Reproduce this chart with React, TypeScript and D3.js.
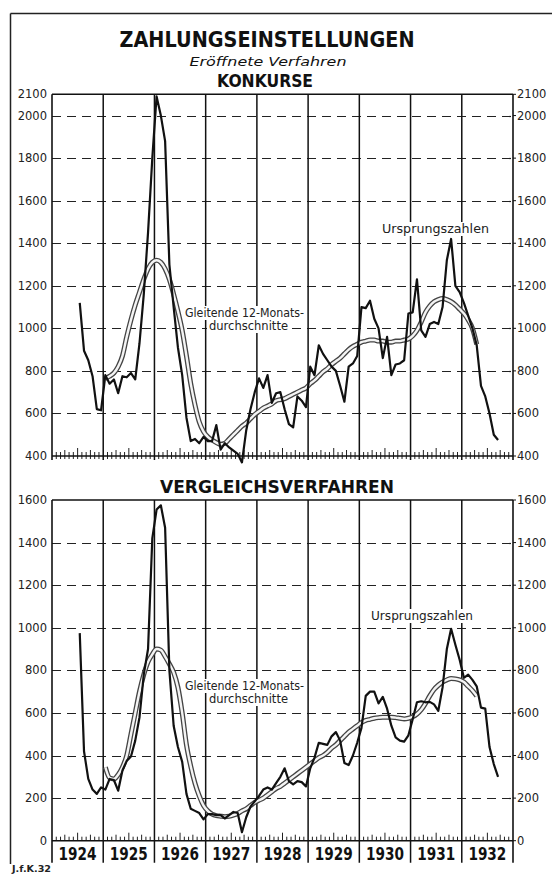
import React from 'react';
import * as d3 from 'd3';

const years = ['1924', '1925', '1926', '1927', '1928', '1929', '1930', '1931', '1932'];
const RAW_START = 6; // July 1924
const AVG_START = 12; // Jan 1925

const konkurseRaw = [
  1120, 895, 850, 775, 620, 615,
  780, 740, 760, 695, 775, 770, 790, 760, 930, 1160, 1450, 1800,
  2090, 2000, 1880, 1300, 1100, 910, 780, 580, 470, 480, 460, 490,
  470, 470, 545, 430, 460, 440, 425, 410, 370, 520, 620, 700,
  765, 720, 780, 650, 695, 700, 620, 550, 535, 680, 660, 630,
  820, 780, 920, 880, 850, 820, 800, 730, 655, 820, 835, 870,
  1100, 1095, 1130, 1045, 1000, 860, 960, 780, 830, 835, 850, 1070,
  1075, 1230, 990, 960, 1020, 1030, 1020, 1100, 1320, 1420, 1200, 1170,
  1120, 1060, 1000, 920, 730, 680, 600, 500, 475,
];

const konkurseAvg = [
  765, 775, 790, 820, 870, 960, 1040, 1110, 1170, 1230, 1280, 1310,
  1320, 1310, 1280, 1230, 1160, 1080, 990, 870, 740, 640, 560, 515,
  490, 475, 463, 455, 460, 480, 500, 520, 540, 555, 575, 595,
  610, 625, 635, 645, 660, 665, 670, 680, 690, 700, 710, 720,
  740, 755, 775, 795, 810, 830, 845, 860, 880, 900, 915, 925,
  935, 940, 945, 945, 940, 940, 935, 935, 940, 940, 945, 950,
  965, 990, 1030, 1075, 1105, 1125, 1135, 1140, 1135, 1125, 1110, 1090,
  1070, 1040, 1000, 925,
];

const vergleichRaw = [
  975, 420, 290, 240, 220, 250,
  240, 290, 285, 235, 330, 375, 395, 470, 580, 780, 900, 1420,
  1555, 1575, 1470, 800, 540, 440, 370, 220, 150, 140, 130, 100,
  125, 125, 120, 120, 105, 120, 135, 130, 40, 110, 160, 185,
  210, 240, 250, 240, 270, 300, 340, 280, 265, 280, 275, 255,
  340, 390, 460, 455, 450, 490, 510, 470, 365, 355, 400, 460,
  530, 680, 700, 700, 645, 675, 620, 540, 485, 470, 465, 495,
  570, 650, 655, 650, 652, 640, 610, 720, 900, 995, 920, 850,
  765, 780, 755, 725, 625, 620, 440, 360, 300,
];

const vergleichAvg = [
  345, 295, 290, 310, 345, 400, 500, 600, 700, 780, 840, 875,
  900, 895, 865, 830, 790, 720, 600, 450, 350, 270, 210, 165,
  140, 125, 118, 115, 113, 115, 120, 128, 140, 150, 165, 180,
  190, 200, 215, 230, 245, 255, 270, 285, 300, 315, 330, 345,
  360, 375, 390, 400, 415, 435, 450, 470, 490, 510, 525, 540,
  555, 565, 570, 575, 578, 580, 580, 580, 578, 575, 572, 575,
  582, 595, 615, 645, 680, 710, 730, 745, 755, 762, 760, 755,
  745, 725, 705, 680,
];

const konkurseTicks = [400, 600, 800, 1000, 1200, 1400, 1600, 1800, 2000, 2100];
const vergleichTicks = [0, 200, 400, 600, 800, 1000, 1200, 1400, 1600];

const X_LEFT = 52;
const X_RIGHT = 513;
const FONT = '"DejaVu Sans", "Liberation Sans", sans-serif';

const xScale = d3.scaleLinear().domain([0, years.length * 12]).range([X_LEFT, X_RIGHT]);

type Label = { text: string; x: number; y: number; w: number };

type PanelProps = {
  y: d3.ScaleLinear<number, number>;
  ticks: number[];
  raw: number[];
  avg: number[];
  labels: Label[];
  lineExt: number;
  tickBelow: number;
};

function Panel({ y, ticks, raw, avg, labels, lineExt, tickBelow }: PanelProps) {
  const dom = y.domain();
  const d0 = dom[0];
  const d1 = dom[1];
  const yBottom = y(d0);
  const yTop = y(d1);
  const rawLine = d3
    .line<number>()
    .x((_, i) => xScale(RAW_START + i + 0.5))
    .y((d) => y(d));
  const avgLine = d3
    .line<number>()
    .x((_, i) => xScale(AVG_START + i + 0.5))
    .y((d) => y(d))
    .curve(d3.curveMonotoneX);
  const dashed = ticks.filter((t) => t > d0 && t < d1);
  const months = d3.range(1, years.length * 12).filter((m) => m % 12 !== 0);
  return (
    <g>
      {dashed.map((t) => {
        const gy = Math.round(y(t)) + 0.5;
        return (
          <path key={'g' + t} d={`M${X_LEFT},${gy}H${X_RIGHT}`} fill="none" stroke="#222" strokeWidth={1.2} strokeDasharray="9 6" />
        );
      })}
      {d3.range(1, years.length).map((k) => (
        <line key={'v' + k} x1={xScale(k * 12)} x2={xScale(k * 12)} y1={yTop} y2={yBottom + lineExt} stroke="#111" strokeWidth={1.5} />
      ))}
      {months.map((m) => {
        const h = m % 12 === 6 ? 8 : m % 3 === 0 ? 6 : 4;
        return <line key={'t' + m} x1={xScale(m)} x2={xScale(m)} y1={yBottom + tickBelow} y2={yBottom - h} stroke="#222" strokeWidth={1} />;
      })}
      {labels.map((l, i) => (
        <rect key={'r' + i} x={l.x - 2} y={l.y - 11} width={l.w + 4} height={14} fill="#fff" />
      ))}
      {labels.map((l, i) => (
        <text key={'l' + i} x={l.x} y={l.y} fontFamily={FONT} fontSize={11.5} textLength={l.w} lengthAdjust="spacingAndGlyphs" fill="#222">
          {l.text}
        </text>
      ))}
      <path d={avgLine(avg) || ''} fill="none" stroke="#444" strokeWidth={5} strokeLinejoin="round" />
      <path d={avgLine(avg) || ''} fill="none" stroke="#f4f4f4" strokeWidth={2.4} strokeLinejoin="round" />
      <path d={rawLine(raw) || ''} fill="none" stroke="#111" strokeWidth={2.2} strokeLinejoin="round" />
      <line x1={X_LEFT} x2={X_RIGHT} y1={yTop} y2={yTop} stroke="#111" strokeWidth={1.5} />
      <line x1={X_LEFT} x2={X_RIGHT} y1={yBottom} y2={yBottom} stroke="#111" strokeWidth={1.5} />
      <line x1={X_LEFT} x2={X_LEFT} y1={yTop} y2={yBottom + lineExt} stroke="#111" strokeWidth={1.6} />
      <line x1={X_RIGHT} x2={X_RIGHT} y1={yTop} y2={yBottom + lineExt} stroke="#111" strokeWidth={1.6} />
      {ticks.map((t) => (
        <g key={'a' + t}>
          <line x1={X_RIGHT} x2={X_RIGHT + 3} y1={y(t)} y2={y(t)} stroke="#111" strokeWidth={1} />
          <text x={47} y={y(t)} dy="0.35em" textAnchor="end" fontFamily={FONT} fontSize={11.5} fill="#222">{t}</text>
          <text x={517} y={y(t)} dy="0.35em" textAnchor="start" fontFamily={FONT} fontSize={11.5} fill="#222">{t}</text>
        </g>
      ))}
    </g>
  );
}

export default function App() {
  const yTop = d3.scaleLinear().domain([400, 2100]).range([456, 94.3]);
  const yBot = d3.scaleLinear().domain([0, 1600]).range([840.7, 500]);
  const topLabels: Label[] = [
    { text: 'Ursprungszahlen', x: 382, y: 233, w: 107 },
    { text: 'Gleitende 12-Monats-', x: 185, y: 317, w: 119 },
    { text: 'durchschnitte', x: 209, y: 330, w: 79 },
  ];
  const botLabels: Label[] = [
    { text: 'Ursprungszahlen', x: 371, y: 620, w: 102 },
    { text: 'Gleitende 12-Monats-', x: 185, y: 690, w: 119 },
    { text: 'durchschnitte', x: 209, y: 703, w: 79 },
  ];
  return (
    <svg width={552} height={875} style={{ position: 'absolute', left: 0, top: 0, background: '#fff' }}>
      <rect x={0} y={0} width={552} height={875} fill="#fff" />
      <line x1={10.5} x2={552} y1={13.5} y2={13.5} stroke="#222" strokeWidth={1.5} />
      <line x1={10.5} x2={10.5} y1={13.5} y2={864} stroke="#222" strokeWidth={1.5} />
      <text x={267} y={46.5} textAnchor="middle" fontFamily={FONT} fontWeight="bold" fontSize={21} textLength={295} lengthAdjust="spacingAndGlyphs" fill="#111">
        ZAHLUNGSEINSTELLUNGEN
      </text>
      <text x={268} y={66} textAnchor="middle" fontFamily={FONT} fontStyle="italic" fontSize={13} textLength={157} lengthAdjust="spacingAndGlyphs" fill="#111">
        Eröffnete Verfahren
      </text>
      <text x={265} y={87} textAnchor="middle" fontFamily={FONT} fontWeight="bold" fontSize={17} textLength={96} lengthAdjust="spacingAndGlyphs" fill="#111">
        KONKURSE
      </text>
      <text x={277} y={493} textAnchor="middle" fontFamily={FONT} fontWeight="bold" fontSize={17} textLength={234} lengthAdjust="spacingAndGlyphs" fill="#111">
        VERGLEICHSVERFAHREN
      </text>
      <Panel y={yTop} ticks={konkurseTicks} raw={konkurseRaw} avg={konkurseAvg} labels={topLabels} lineExt={4} tickBelow={3} />
      <Panel y={yBot} ticks={vergleichTicks} raw={vergleichRaw} avg={vergleichAvg} labels={botLabels} lineExt={22} tickBelow={0} />
      {years.map((yr, k) => (
        <text key={yr} x={xScale(k * 12 + 6)} y={860} textAnchor="middle" fontFamily={FONT} fontWeight="bold" fontSize={17} textLength={38} lengthAdjust="spacingAndGlyphs" fill="#111">
          {yr}
        </text>
      ))}
      <text x={12} y={872} fontFamily={FONT} fontSize={8.5} fontWeight="bold" textLength={39} lengthAdjust="spacingAndGlyphs" fill="#222">
        J.f.K.32
      </text>
    </svg>
  );
}
